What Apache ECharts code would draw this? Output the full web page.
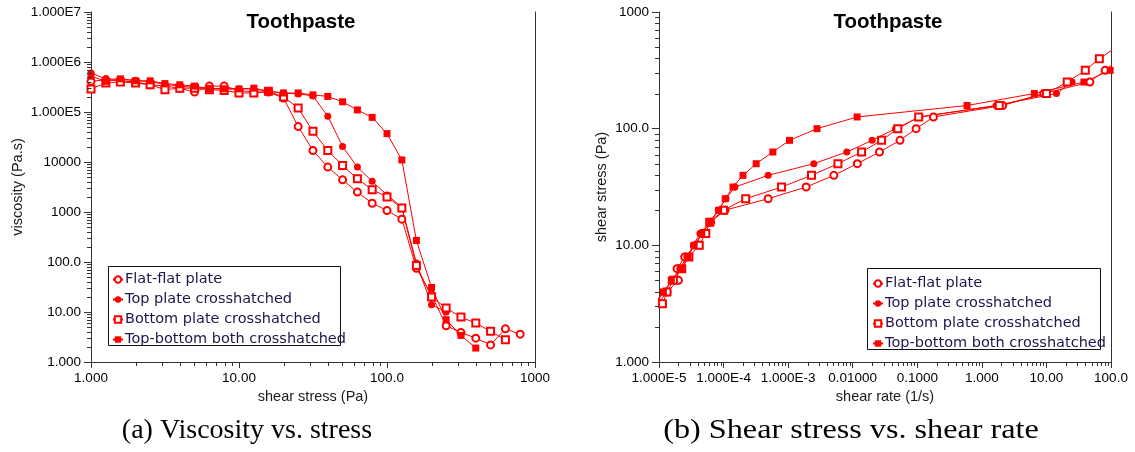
<!DOCTYPE html>
<html><head><meta charset="utf-8">
<script src="https://cdn.jsdelivr.net/npm/echarts@6/dist/echarts.min.js"></script>
<style>html,body{margin:0;padding:0;background:#fff}#c{width:1135px;height:452px}</style>
</head><body><div id="c"></div>
<script>
// ---------- data ----------
const seriesNames = ['Flat-flat plate', 'Top plate crosshatched', 'Bottom plate crosshatched', 'Top-bottom both crosshatched'];

// (a) viscosity vs shear stress
const stressX = [1, 1.26, 1.58, 2, 2.51, 3.16, 3.98, 5.01, 6.31, 7.94, 10, 12.6, 15.8, 20, 25.1, 31.6, 39.8, 50.1, 63.1, 79.4, 100, 126, 158, 200, 251, 316, 398, 501, 631, 794];
const viscFlat = [4.1e5, 4.4e5, 4.2e5, 4.0e5, 3.5e5, 3.3e5, 3.0e5, 2.5e5, 3.3e5, 3.3e5, 2.7e5, 2.5e5, 2.5e5, 1.9e5, 5.1e4, 1.7e4, 7.9e3, 4.4e3, 2.5e3, 1.5e3, 1070, 720, 75, 22, 5.3, 3.9, 3.0, 2.2, 4.6, 3.6];
const viscTop = [6.0e5, 4.6e5, 4.5e5, 4.3e5, 4.0e5, 3.6e5, 3.3e5, 3.1e5, 3.0e5, 2.9e5, 2.9e5, 2.9e5, 2.6e5, 2.4e5, 2.3e5, 2.1e5, 8.2e4, 2.05e4, 7.9e3, 4.1e3, 2200, 1240, 95, 14, 10];
const viscBottom = [2.9e5, 3.8e5, 4.0e5, 3.8e5, 3.5e5, 2.8e5, 3.0e5, 3.0e5, 2.8e5, 2.7e5, 2.4e5, 2.4e5, 2.6e5, 2.0e5, 1.2e5, 4.1e4, 1.7e4, 8.5e3, 4.6e3, 2.8e3, 2000, 1200, 85, 20, 12, 7.9, 6.0, 4.1, 2.8];
const viscBoth = [5.2e5, 4.1e5, 4.6e5, 4.2e5, 4.2e5, 3.7e5, 3.5e5, 3.3e5, 2.9e5, 2.9e5, 2.9e5, 3.0e5, 2.6e5, 2.4e5, 2.4e5, 2.2e5, 2.05e5, 1.6e5, 1.1e5, 7.8e4, 3.7e4, 1.1e4, 270, 31, 7, 3.4, 1.9];

// (b) shear stress vs shear rate
const stressY = [2.51, 3.16, 3.98, 5.01, 6.31, 7.94, 10, 12.6, 15.8, 20, 25.1, 31.6, 39.8, 50.1, 63.1, 79.4, 100, 126, 158, 200, 251, 316, 398, 501];
const rateFlat = [7.2e-6, 9.6e-6, 1.33e-5, 2.0e-5, 1.9e-5, 2.5e-5, 3.7e-5, 4.6e-5, 6.3e-5, 1.05e-4, 4.9e-4, 1.9e-3, 5.1e-3, 0.0118, 0.026, 0.054, 0.096, 0.178, 2.1, 9.1, 47, 81, 133];
const rateTop = [6.3e-6, 8.8e-6, 1.2e-5, 1.6e-5, 2.1e-5, 2.7e-5, 3.4e-5, 4.3e-5, 6.1e-5, 8.3e-5, 1.09e-4, 1.5e-4, 4.9e-4, 2.5e-3, 8.1e-3, 0.020, 0.046, 0.11, 1.66, 14.3, 25];
const rateBottom = [7.2e-6, 1.13e-5, 1.33e-5, 1.67e-5, 2.25e-5, 2.9e-5, 4.2e-5, 5.3e-5, 6.1e-5, 1.0e-4, 2.2e-4, 7.9e-4, 2.3e-3, 5.9e-3, 0.0137, 0.028, 0.05, 0.105, 1.86, 10, 21, 40, 66, 122];
const rateBoth = [6.0e-6, 8.5e-6, 1.17e-5, 1.55e-5, 2.2e-5, 2.8e-5, 3.5e-5, 4.6e-5, 6.3e-5, 8.4e-5, 1.06e-4, 1.4e-4, 2.0e-4, 3.2e-4, 5.8e-4, 1.05e-3, 2.8e-3, 0.0117, 0.59, 6.5, 38, 97, 209];

// tick labels (by decade exponent)
const viscLabels = ['1.000', '10.00', '100.0', '1000', '10000', '1.000E5', '1.000E6', '1.000E7'];      // 10^0 .. 10^7
const stressXLabels = ['1.000', '10.00', '100.0', '1000'];                                               // 10^0 .. 10^3
const rateLabels = ['1.000E-5', '1.000E-4', '1.000E-3', '0.01000', '0.1000', '1.000', '10.00', '100.0']; // 10^-5 .. 10^2
const stressYLabels = ['1.000', '10.00', '100.0', '1000'];                                               // 10^0 .. 10^3

// ---------- styling ----------
const RED = '#ff0000';
const AXIS = '#333333';
const LABEL_FONT = '"Liberation Sans", Arial, sans-serif';
const symbols = [
  { symbol: 'emptyCircle', size: 7 },
  { symbol: 'circle', size: 7 },
  { symbol: 'emptyRect', size: 7 },
  { symbol: 'rect', size: 7 }
];

function minorValues(lo, hi) {
  const out = [];
  for (let e = lo; e < hi; e++) for (let k = 2; k <= 9; k++) out.push(k * Math.pow(10, e));
  return out;
}

function makeAxis(gridIndex, kind, lo, hi, labels, name, nameGap) {
  return {
    type: 'log', gridIndex, min: Math.pow(10, lo), max: Math.pow(10, hi), logBase: 10,
    splitNumber: hi - lo,
    axisLine: { show: true, lineStyle: { color: AXIS, width: 1 } },
    axisTick: { show: true, length: kind === 'y' ? 7 : 6, inside: false, lineStyle: { color: AXIS, width: 1 } },
    splitLine: { show: false },
    minorTick: { show: false },
    axisLabel: {
      show: true, margin: kind === 'y' ? 10 : 9, fontSize: 13.5, fontFamily: LABEL_FONT, color: '#000',
      showMinLabel: true, showMaxLabel: true,
      formatter: v => labels[Math.round(Math.log10(v)) - lo]
    },
    name, nameLocation: 'middle', nameGap,
    nameTextStyle: { fontSize: 14.5, fontFamily: LABEL_FONT, color: '#1a1a1a' }
  };
}

const xAxes = [
  makeAxis(0, 'x', 0, 3, stressXLabels, 'shear stress (Pa)', 26),
  makeAxis(1, 'x', -5, 2, rateLabels, 'shear rate (1/s)', 26)
];
function rightLine(gridIndex, lo, hi) {
  return {
    type: 'log', gridIndex, position: 'right', min: Math.pow(10, lo), max: Math.pow(10, hi),
    axisLine: { show: true, lineStyle: { color: AXIS, width: 1 } },
    axisTick: { show: false }, axisLabel: { show: false }, splitLine: { show: false }
  };
}
const yAxes = [
  makeAxis(0, 'y', 0, 7, viscLabels, 'viscosity (Pa.s)', 66),
  rightLine(0, 0, 7),
  makeAxis(1, 'y', 0, 3, stressYLabels, 'shear stress (Pa)', 50),
  rightLine(1, 0, 3)
];

function lineSeries(name, idx, xi, yi, data) {
  const s = symbols[idx];
  return {
    type: 'line', name, xAxisIndex: xi, yAxisIndex: yi, data,
    symbol: s.symbol, symbolSize: s.size, showSymbol: true,
    lineStyle: { color: RED, width: 1 },
    itemStyle: { color: RED, borderColor: RED, borderWidth: s.symbol.startsWith('empty') ? 1 : 0 },
    emphasis: { disabled: true }, animation: false, clip: true, z: 3
  };
}

const leftVisc = [viscFlat, viscTop, viscBottom, viscBoth];
const rightRate = [rateFlat, rateTop, rateBottom, rateBoth];
const series = [];
leftVisc.forEach((arr, i) => series.push(lineSeries(seriesNames[i], i, 0, 0, arr.map((v, j) => [stressX[j], v]))));
rightRate.forEach((arr, i) => series.push(lineSeries(seriesNames[i], i, 1, 2, arr.map((r, j) => [r, stressY[j]]))));

const legendCommon = {
  orient: 'vertical', data: seriesNames, padding: 0, itemGap: 5, itemWidth: 10, itemHeight: 8,
  selectedMode: false, borderWidth: 0,
  textStyle: { fontSize: 14.5, fontFamily: '"DejaVu Sans", Verdana, sans-serif', color: '#22144a', padding: [0, 0, 0, -3] }
};

const baseGraphic = [
  { type: 'rect', shape: { x: 108.5, y: 266.5, width: 232, height: 79 }, style: { fill: 'none', stroke: '#111', lineWidth: 1 }, z: 10 },
  { type: 'rect', shape: { x: 867.5, y: 268.5, width: 233, height: 81 }, style: { fill: 'none', stroke: '#111', lineWidth: 1 }, z: 10 },
  { type: 'text', x: 301, y: 22, style: { text: 'Toothpaste', align: 'center', verticalAlign: 'middle', font: 'bold 20.5px "Liberation Sans", Arial, sans-serif', fill: '#000' } },
  { type: 'text', x: 888, y: 22, style: { text: 'Toothpaste', align: 'center', verticalAlign: 'middle', font: 'bold 20.5px "Liberation Sans", Arial, sans-serif', fill: '#000' } },
  { type: 'text', x: 247, y: 431, style: { text: '(a) Viscosity vs. stress', align: 'center', verticalAlign: 'middle', font: '28px "Liberation Serif", "Times New Roman", serif', fill: '#000' } },
  { type: 'text', x: 851, y: 431, scaleX: 1.15, style: { text: '(b) Shear stress vs. shear rate', align: 'center', verticalAlign: 'middle', font: '28px "Liberation Serif", "Times New Roman", serif', fill: '#000' } }
];

const option = {
  animation: false,
  backgroundColor: '#fff',
  grid: [
    { left: 91, top: 12, width: 444, height: 350, containLabel: false, outerBoundsMode: 'none' },
    { left: 659, top: 12, width: 452, height: 350, containLabel: false, outerBoundsMode: 'none' }
  ],
  xAxis: xAxes,
  yAxis: yAxes,
  legend: [
    Object.assign({ left: 112, top: 272 }, legendCommon),
    Object.assign({ left: 872, top: 276 }, legendCommon)
  ],
  series,
  graphic: baseGraphic
};

const chart = echarts.init(document.getElementById('c'), null, { renderer: 'canvas', width: 1135, height: 452 });
chart.setOption(option);

// minor (logarithmic) ticks, positioned through the axes' own scales
const tickEls = [];
function addMinorTicks(finder, xLo, xHi, yLo, yHi) {
  const origin = chart.convertToPixel(finder, [Math.pow(10, xLo), Math.pow(10, yLo)]);
  if (!origin) return;
  const ax = Math.round(origin[0]) + 0.5, ay = Math.round(origin[1]) + 0.5;
  minorValues(xLo, xHi).forEach(v => {
    const p = chart.convertToPixel(finder, [v, Math.pow(10, yLo)]);
    const x = Math.round(p[0]) + 0.5;
    tickEls.push({ type: 'line', silent: true, z: 5, shape: { x1: x, y1: ay, x2: x, y2: ay + 3.5 }, style: { stroke: AXIS, lineWidth: 1 } });
  });
  minorValues(yLo, yHi).forEach(v => {
    const p = chart.convertToPixel(finder, [Math.pow(10, xLo), v]);
    const y = Math.round(p[1]) + 0.5;
    tickEls.push({ type: 'line', silent: true, z: 5, shape: { x1: ax - 4.5, y1: y, x2: ax, y2: y }, style: { stroke: AXIS, lineWidth: 1 } });
  });
}
addMinorTicks({ xAxisIndex: 0, yAxisIndex: 0 }, 0, 3, 0, 7);
addMinorTicks({ xAxisIndex: 1, yAxisIndex: 2 }, -5, 2, 0, 3);
chart.setOption({ graphic: baseGraphic.concat(tickEls) });
</script>
</body></html>
